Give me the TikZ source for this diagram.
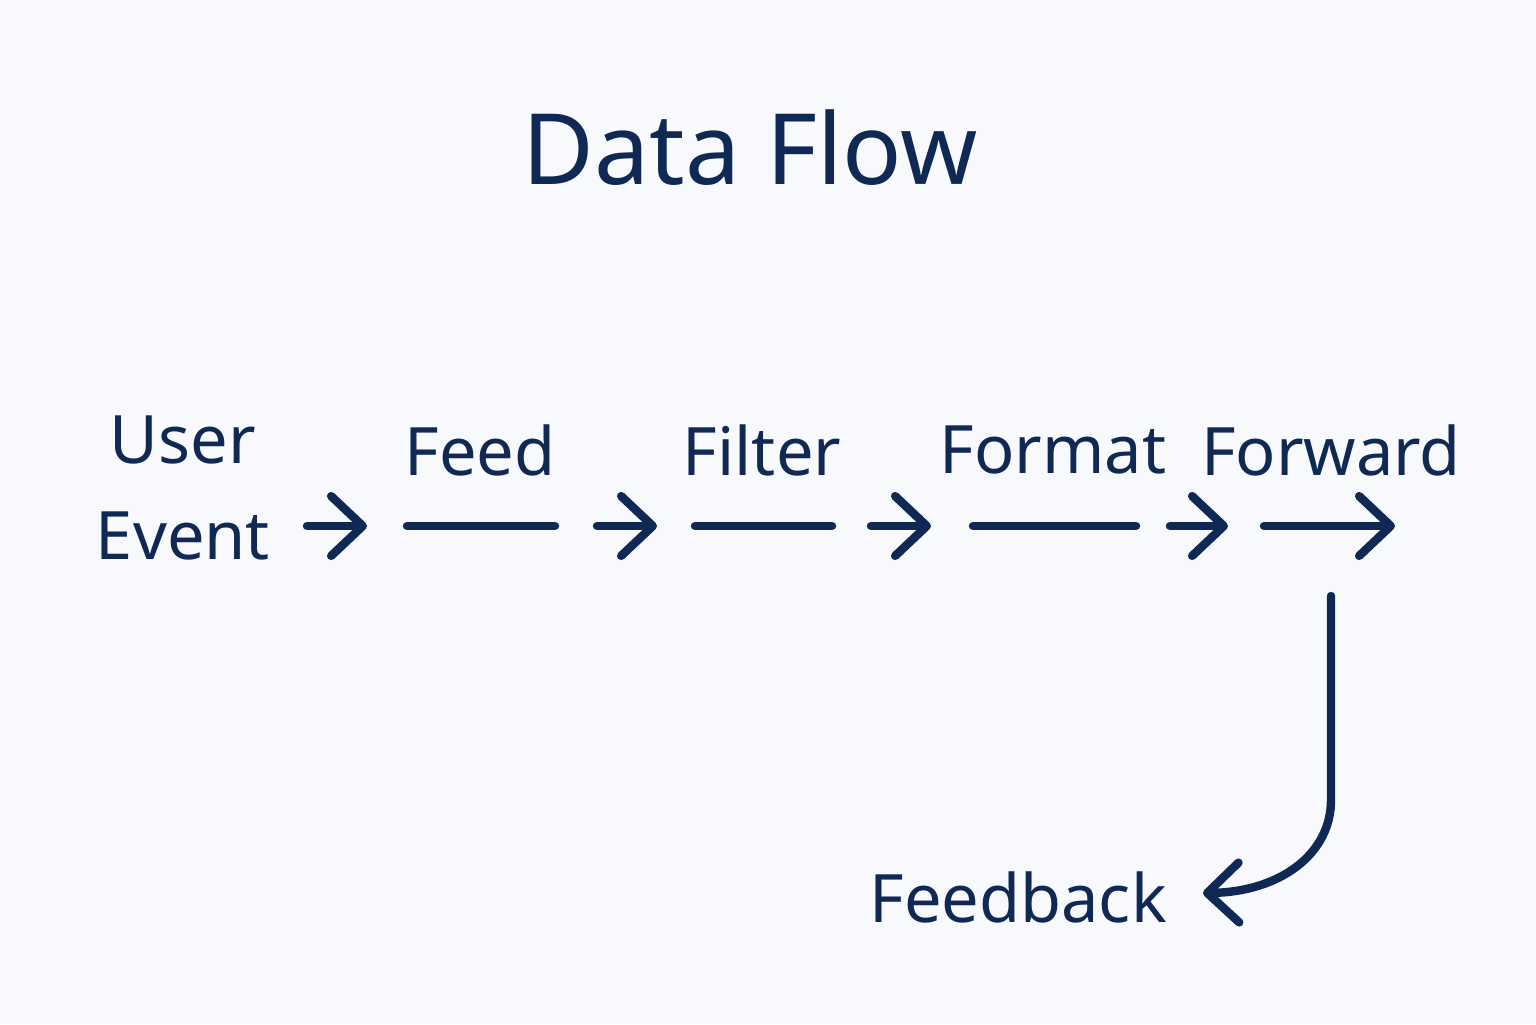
\documentclass[tikz,border=0pt]{standalone}
\usepackage{fontspec}
\setmainfont{Noto Sans}
\usetikzlibrary{arrows.meta,positioning}
\definecolor{navyd}{RGB}{16,40,84}
\definecolor{paperd}{RGB}{247,249,252}

\tikzset{
  label/.style={text=navyd, font=\fontsize{19}{23}\selectfont\bfseries, align=center, inner sep=0pt},
  flow/.style={navyd, line width=2.4pt, line cap=round},
  flowarrow/.style={flow, -{Straight Barb[length=9pt,width=17pt,line width=2.4pt,round]}}
}

\begin{document}
\begin{tikzpicture}
                    \fill[paperd] (0,0) rectangle (15.36,10.24);
                    \useasboundingbox (0,0) rectangle (15.36,10.24);
                    \node[text=navyd, font=\fontsize{28}{32}\selectfont\bfseries] (title) at (7.5,8.76) {Data Flow};
                    \node[label] (user) at (1.83,5.36) {User\\[0.15cm]Event};
                    \node[label] (feed) at (4.8,5.74) {Feed};
                    \node[label] (filter) at (7.62,5.74) {Filter};
                    \node[label] (format) at (10.53,5.74) {Format};
                    \node[label] (forward) at (13.31,5.74) {Forward};
                    \node[label] (feedback) at (10.18,1.27) {Feedback};
                    % arrows and dashes along the row
                    \coordinate (a1) at (3.07,4.98); \coordinate (b1) at (3.67,4.98);
                    \coordinate (a2) at (5.97,4.98); \coordinate (b2) at (6.57,4.98);
                    \coordinate (a3) at (8.71,4.98); \coordinate (b3) at (9.31,4.98);
                    \coordinate (a4) at (11.70,4.98); \coordinate (b4) at (12.28,4.98);
                    \draw[flowarrow] (a1) -- (b1);
                    \draw[flowarrow] (a2) -- (b2);
                    \draw[flowarrow] (a3) -- (b3);
                    \draw[flowarrow] (a4) -- (b4);
                    \draw[flow] (4.07,4.98) -- (5.55,4.98);
                    \draw[flow] (6.95,4.98) -- (8.32,4.98);
                    \draw[flow] (9.73,4.98) -- (11.36,4.98);
                    \draw[flowarrow] (12.64,4.98) -- (13.95,4.98);
                    % return path
                    \coordinate (down) at (13.31,4.28);
                    \coordinate (back) at (12.03,1.31);
                    \draw[flowarrow] (down) -- (13.31,2.24) .. controls (13.31,1.7) and (12.8,1.32) .. (back);
\end{tikzpicture}
\end{document}
